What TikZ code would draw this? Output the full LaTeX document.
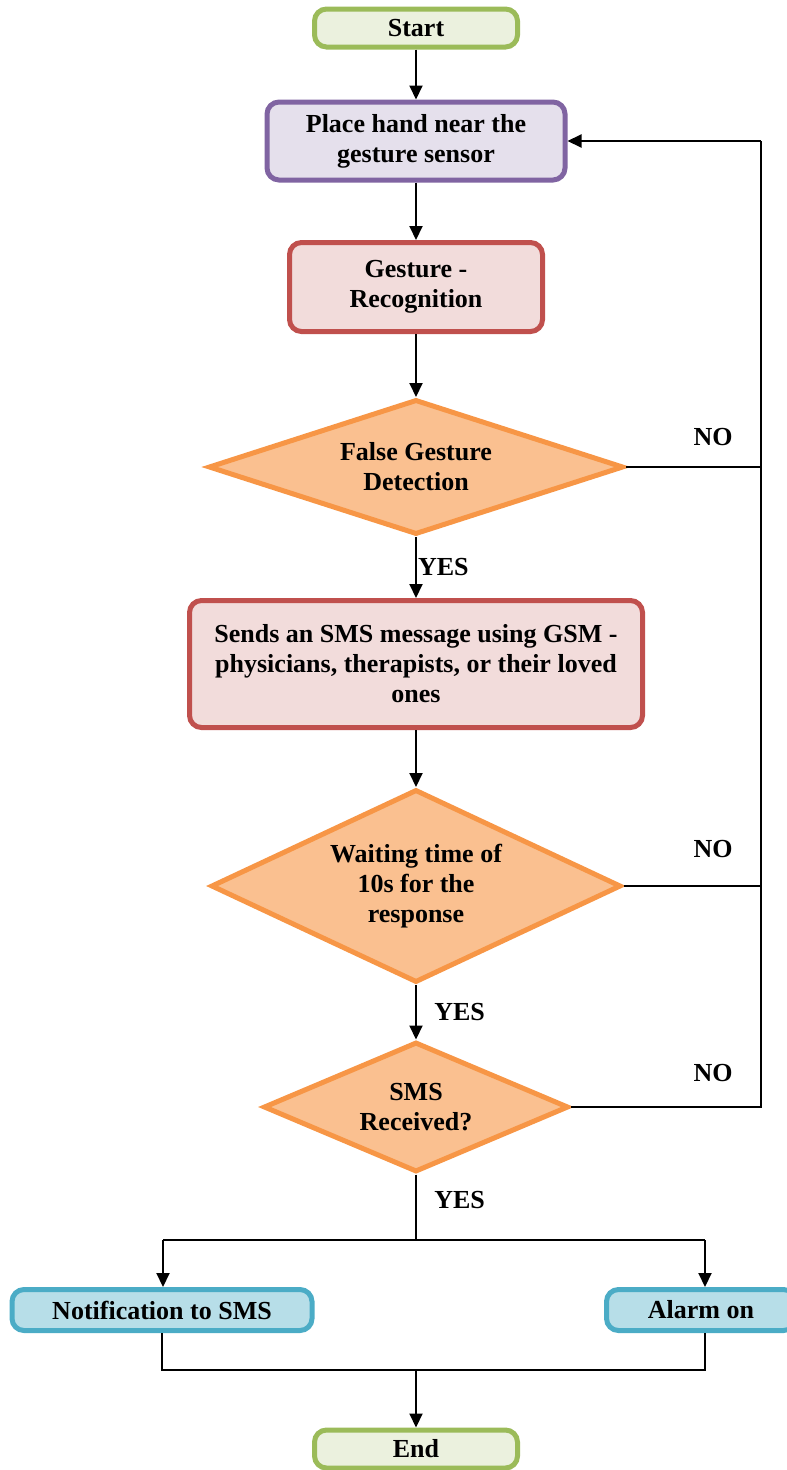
\documentclass[tikz,border=0pt]{standalone}
\usepackage{fontspec}
\setmainfont{Liberation Serif}
\usetikzlibrary{shapes.geometric,arrows.meta}
\definecolor{termline}{HTML}{9BBB59}
\definecolor{termfill}{HTML}{EBF1DE}
\definecolor{inline}{HTML}{8064A2}
\definecolor{infill}{HTML}{E5E0EC}
\definecolor{procline}{HTML}{C0504D}
\definecolor{procfill}{HTML}{F2DCDB}
\definecolor{decline}{HTML}{F79646}
\definecolor{decfill}{HTML}{FAC090}
\definecolor{outline}{HTML}{4BACC6}
\definecolor{outfill}{HTML}{B7DEE8}
\begin{document}
\begin{tikzpicture}[x=1pt,y=-1pt,
    font=\fontsize{26}{30}\selectfont\bfseries,
    box/.style={draw,rounded corners=12pt,line width=5pt,align=center,inner sep=0pt},
    term/.style={box,draw=termline,fill=termfill,minimum width=203pt,minimum height=38pt},
    proc/.style={box,draw=procline,fill=procfill},
    outbox/.style={box,draw=outline,fill=outfill,minimum height=41pt},
    dec/.style={diamond,draw=decline,fill=decfill,line width=5pt,align=center,inner sep=0pt},
    arr/.style={-{Triangle[width=13pt,length=14pt]}}]
  \useasboundingbox (0,0) rectangle (787,1470);
  \draw[line width=2pt]
    (416,28) node[term] (start){Start}
    (416,141) node[box,draw=inline,fill=infill,minimum width=298pt,minimum height=78pt] (place){Place hand near the\\gesture sensor}
    (416,287) node[proc,minimum width=253pt,minimum height=89pt] (recog){Gesture -\\Recognition}
    (416,467) node[dec,aspect=3,minimum width=415pt,minimum height=135pt] (false){False Gesture\\Detection}
    (416,664) node[proc,minimum width=453pt,minimum height=127pt] (sms){Sends an SMS message using GSM -\\physicians, therapists, or their loved\\ones}
    (416,886) node[dec,aspect=2.1,minimum width=410pt,minimum height=193pt] (wait){Waiting time of\\10s for the\\response}
    (416,1107) node[dec,aspect=2.3,minimum width=305pt,minimum height=130pt] (recv){SMS\\Received?}
    (162,1310) node[outbox,minimum width=300pt] (notif){Notification to SMS}
    (701,1310) node[outbox,minimum width=189pt] (alarm){Alarm on}
    (416,1449) node[term] (stop){End}
    (713,437) node (no1){NO}
    (713,849) node (no2){NO}
    (713,1073) node (no3){NO};
  \coordinate (loopA) at (761,467);
  \coordinate (loopB) at (761,886);
  \coordinate (loopC) at (761,1107);
  \coordinate (loopTop) at (761,141);
  \coordinate (split) at (416,1240);
  \coordinate (splitL) at (163,1240);
  \coordinate (splitR) at (705,1240);
  \coordinate (joinL) at (162,1370);
  \coordinate (joinR) at (705,1370);
  \coordinate (join) at (416,1370);
  \begin{scope}[line width=2pt]
    \draw[arr] (start) to (place);
    \draw[arr] (place) to (recog);
    \draw[arr] (recog) to (false);
    \draw[arr] (false) to node[right,inner sep=1pt] {YES} (sms);
    \draw[arr] (sms) to (wait);
    \draw[arr] (wait) to node[right,xshift=14pt] {YES} (recv);
    \draw (recv) to node[right,xshift=14pt,yshift=7pt] {YES} (split);
    \draw (false.east) to (loopA);
    \draw (wait.east) to (loopB);
    \draw (recv.east) to (loopC) to (loopTop);
    \draw[arr] (loopTop) to (place.east);
    \draw (splitL) to (splitR);
    \draw[arr] (splitL) to (splitL |- notif.north);
    \draw[arr] (splitR) to (splitR |- alarm.north);
    \draw (notif.south -| joinL) to (joinL) to (joinR) to (alarm.south -| joinR);
    \draw[arr] (join) to (stop);
  \end{scope}
\end{tikzpicture}
\end{document}
